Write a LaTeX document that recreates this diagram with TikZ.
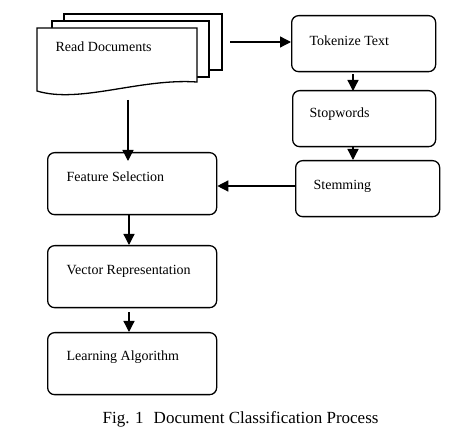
\documentclass[tikz,border=0pt]{standalone}
\usepackage{fontspec}
\setmainfont{Liberation Serif}
\usetikzlibrary{arrows.meta}
\begin{document}
\begin{tikzpicture}[x=1pt,y=-1pt,line width=1.3pt,
  box/.style={draw,rounded corners=7pt,fill=white},
  page/.style={draw,fill=white,line width=1.3pt},
  lbl/.style={anchor=base west,inner sep=0pt,font=\fontsize{14}{16}\selectfont},
  arr/.style={-{Triangle[length=11pt,width=11pt]},line width=1.3pt}]
\useasboundingbox (0,0) rectangle (467,441);
% stacked documents
\draw[page] (64,14) rectangle (222,70);
\draw[page] (52,21) rectangle (209,77);
\draw[page] (37,28) -- (197,28) -- (197,82) .. controls (140,78) and (80,104) .. (37,91) -- cycle;
\node[lbl] (readdoc) at (55,52) {Read Documents};
\coordinate (docright) at (230,42);
\coordinate (docbottom) at (128,100);
% right column
\node[box,minimum width=144pt,minimum height=56pt,anchor=north west] (tok) at (291,15) {};
\node[lbl] (toktext) at (309,46) {Tokenize Text};
\node[box,minimum width=143pt,minimum height=56pt,anchor=north west] (stop) at (292,90) {};
\node[lbl] (stoptext) at (309,118) {Stopwords};
\node[box,minimum width=144pt,minimum height=56pt,anchor=north west] (stem) at (295,160) {};
\node[lbl] (stemtext) at (313,190) {Stemming};
% left column
\node[box,minimum width=169pt,minimum height=62pt,anchor=north west] (feat) at (47,152) {};
\node[lbl] (feattext) at (66,182) {Feature Selection};
\node[box,minimum width=169pt,minimum height=62pt,anchor=north west] (vec) at (47,245) {};
\node[lbl] (vectext) at (66,275) {Vector Representation};
\node[box,minimum width=169pt,minimum height=62pt,anchor=north west] (learn) at (47,332) {};
\node[lbl] (learntext) at (66,361) {Learning Algorithm};
% caption
\node[anchor=base west,inner sep=0pt,font=\fontsize{17}{19}\selectfont] (cap) at (102,424) {Fig. 1\hspace{10pt}Document Classification Process};
% arrows
\draw[arr] (docright) -- (tok.west |- docright);
\draw[arr] (tok.south -| 353,0) ++(0,2) -- ([yshift=-1pt]stop.north -| 353,0);
\draw[arr] (stop.south -| 353,0) -- (stem.north -| 353,0);
\draw[arr] (stem.west |- 0,186) -- (feat.east |- 0,186);
\draw[arr] (docbottom) -- ([yshift=-9pt]feat.north -| docbottom);
\draw[arr] (feat.south -| 129,0) -- (vec.north -| 129,0);
\draw[arr] ([yshift=-4pt]vec.south -| 129,0) -- (learn.north -| 129,0);
\end{tikzpicture}
\end{document}
